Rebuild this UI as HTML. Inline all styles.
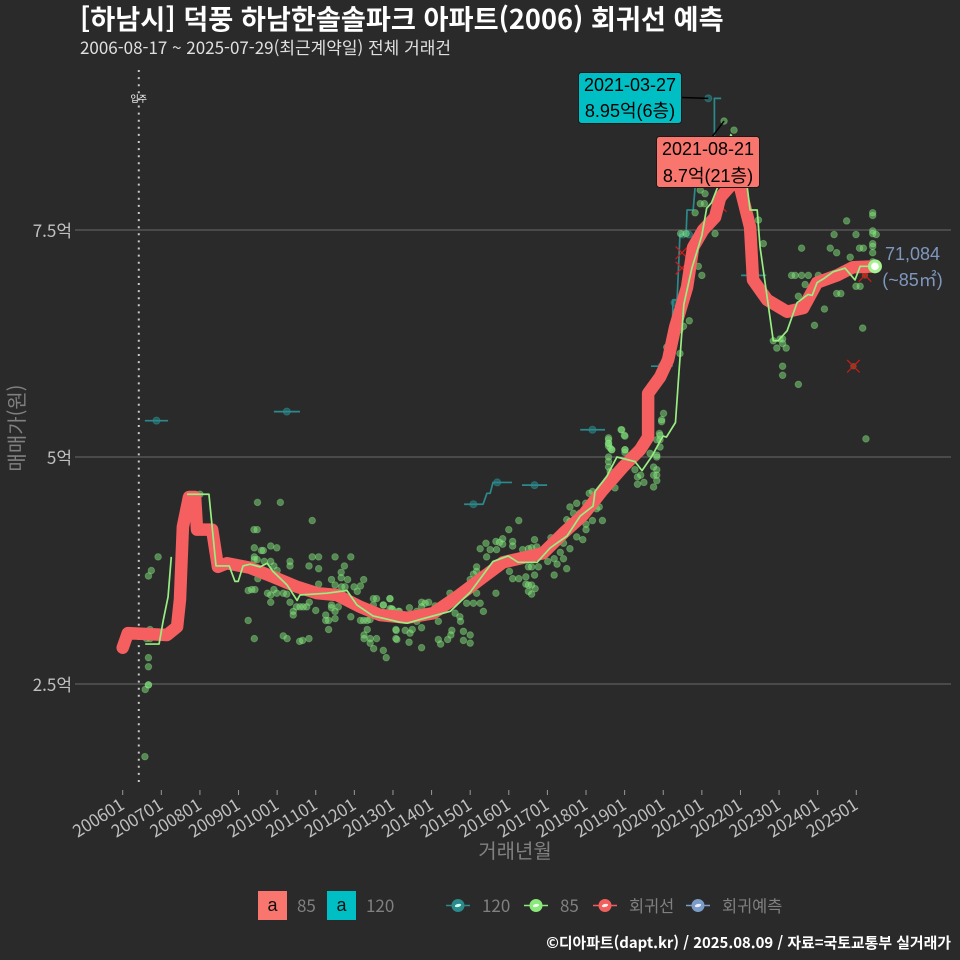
<!DOCTYPE html>
<html lang="ko">
<head>
<meta charset="utf-8">
<title>덕풍 하남한솔솔파크 아파트 회귀선 예측</title>
<style>
html,body{margin:0;padding:0;background:#2a2a2a;}
body{width:960px;height:960px;overflow:hidden;}
svg{display:block;}
text{font-family:"Noto Sans CJK KR","Liberation Sans",sans-serif;}
.ann{font-family:"Liberation Sans","Noto Sans CJK KR",sans-serif;font-size:18px;fill:#000;text-anchor:middle;}
</style>
</head>
<body>
<svg id="chart" width="960" height="960" viewBox="0 0 960 960" xmlns="http://www.w3.org/2000/svg">
  <rect x="0" y="0" width="960" height="960" fill="#2a2a2a"/>
  <text x="80" y="29" font-size="27.2" font-weight="700" fill="#ffffff">[하남시] 덕풍 하남한솔솔파크 아파트(2006) 회귀선 예측</text>
  <text x="80" y="54" font-size="17" fill="#e0e0e0">2006-08-17 ~ 2025-07-29(최근계약일) 전체 거래건</text>
  <text transform="translate(24,428) rotate(-90)" text-anchor="middle" font-size="20" fill="#808080">매매가(원)</text>
  <text x="515" y="858" text-anchor="middle" font-size="20" fill="#808080">거래년월</text>
  <g id="grid"></g>
  <g id="xaxis"></g>
  <g id="marks"></g>

  <g>
    <rect x="578.5" y="72.5" width="103" height="51" rx="3" fill="#00BFC4" stroke="#1a1a1a"/>
    <text class="ann" x="630" y="91">2021-03-27</text>
    <text class="ann" x="630" y="117">8.95억(6층)</text>
  </g>
  <g>
    <rect x="656.5" y="136.5" width="103" height="51" rx="3" fill="#F8766D" stroke="#1a1a1a"/>
    <text class="ann" x="708" y="155">2021-08-21</text>
    <text class="ann" x="708" y="182">8.7억(21층)</text>
  </g>
  <g>
    <text x="912.5" y="260" text-anchor="middle" font-size="18" fill="#7f97bd" style="font-family:'Liberation Sans','Noto Sans CJK KR',sans-serif">71,084</text>
    <text x="912.5" y="286" text-anchor="middle" font-size="18" fill="#7f97bd" style="font-family:'Liberation Sans','Noto Sans CJK KR',sans-serif">(~85㎡)</text>
  </g>

  <g>
    <g>
      <rect x="258" y="891" width="29" height="29" fill="#F8766D"/>
      <text x="272.5" y="911" text-anchor="middle" font-size="18" fill="#111" style="font-family:'Liberation Sans',sans-serif">a</text>
      <text x="297" y="912" font-size="17" fill="#808080">85</text>
    </g>
    <g>
      <rect x="327" y="891" width="29" height="29" fill="#00BFC4"/>
      <text x="341.5" y="911" text-anchor="middle" font-size="18" fill="#111" style="font-family:'Liberation Sans',sans-serif">a</text>
      <text x="366" y="912" font-size="17" fill="#808080">120</text>
    </g>
    <g>
      <line x1="446" x2="470" y1="905.5" y2="905.5" stroke="#2a8a8c" stroke-width="1.5"/>
      <circle cx="458" cy="905.5" r="6.5" fill="#2a8a8c"/>
      <ellipse cx="458" cy="905.5" rx="3.2" ry="1.5" fill="#cfe" transform="rotate(-15 458 905.5)"/>
      <text x="482" y="912" font-size="17" fill="#808080">120</text>
    </g>
    <g>
      <line x1="524" x2="548" y1="905.5" y2="905.5" stroke="#8be87a" stroke-width="1.5"/>
      <circle cx="536" cy="905.5" r="6.5" fill="#8be87a"/>
      <ellipse cx="536" cy="905.5" rx="3.2" ry="1.5" fill="#efe" transform="rotate(-15 536 905.5)"/>
      <text x="560" y="912" font-size="17" fill="#808080">85</text>
    </g>
    <g>
      <line x1="593" x2="617" y1="905.5" y2="905.5" stroke="#f25f5f" stroke-width="1.5"/>
      <circle cx="605" cy="905.5" r="6.5" fill="#f25f5f"/>
      <ellipse cx="605" cy="905.5" rx="3.2" ry="1.5" fill="#fee" transform="rotate(-15 605 905.5)"/>
      <text x="629" y="912" font-size="16.4" fill="#808080">회귀선</text>
    </g>
    <g>
      <line x1="686" x2="710" y1="905.5" y2="905.5" stroke="#7b9cc8" stroke-width="1.5"/>
      <circle cx="698" cy="905.5" r="6.5" fill="#7b9cc8"/>
      <ellipse cx="698" cy="905.5" rx="3.2" ry="1.5" fill="#eef" transform="rotate(-15 698 905.5)"/>
      <text x="722" y="912" font-size="16.4" fill="#808080">회귀예측</text>
    </g>
  </g>
  <text x="951" y="948" text-anchor="end" font-size="14.9" font-weight="700" fill="#ffffff">©디아파트(dapt.kr) / 2025.08.09 / 자료=국토교통부 실거래가</text>
</svg>

<script>
// x = months since 2006-01, y = price in 억원
const xTickLabels = ['200601','200701','200801','200901','201001','201101','201201','201301','201401','201501','201601','201701','201801','201901','202001','202101','202201','202301','202401','202501'];
const yTickValues = [2.5, 5, 7.5];
const yTickLabels = ['2.5억', '5억', '7.5억'];
const moveInMonth = 5;

const regressionLine = [[0,2.90],[1.6,3.06],[13.8,3.04],[16.9,3.13],[17.8,3.43],[18.7,4.23],[20.6,4.56],[22.5,4.56],[23.1,4.20],[27.8,4.20],[29.6,3.79],[32.4,3.83],[39.6,3.78],[46.7,3.68],[54.2,3.57],[60.4,3.50],[66.6,3.48],[73.8,3.35],[80,3.26],[88.4,3.23],[96.5,3.28],[103.9,3.46],[111,3.65],[118.2,3.84],[124.4,3.89],[130.6,3.94],[136.9,4.16],[143.1,4.36],[149.3,4.64],[155.5,4.89],[160.8,5.08],[163.3,5.22],[163.3,5.70],[167,5.88],[169.5,6.07],[171.7,6.43],[175.4,6.87],[177.3,7.31],[180.4,7.50],[184.1,7.64],[185.7,7.86],[189.7,8.02],[191.9,7.97],[195,7.53],[195.9,6.95],[200.3,6.73],[206.5,6.60],[211.5,6.64],[215.8,6.92],[222,7.00],[227,7.09],[233.8,7.10]];

const line85SegmentA = [[7,2.94],[11.3,2.94],[12.6,3.20],[14.1,3.46],[15.1,3.90]];
const line85SegmentB = [[20,4.59],[26.8,4.59],[29,3.80],[33.1,3.80],[34.9,3.63],[35.9,3.63],[37.4,3.80],[39.6,3.82],[42.7,3.79],[44.9,3.83],[46.7,3.74],[51.1,3.59],[54.2,3.42],[55.1,3.48],[63.5,3.50],[69.7,3.53],[72.8,3.37],[77.8,3.25],[86.2,3.18],[88.4,3.17],[93.4,3.22],[101.8,3.30],[108,3.51],[115.1,3.85],[119.8,3.91],[122.9,3.84],[128.8,3.84],[132.9,4.00],[138.1,4.13],[142.2,4.35],[146.2,4.46],[146.8,4.62],[150.5,4.79],[153.6,5.00],[159.2,4.95],[161.4,4.85],[164.5,5.01],[167.9,5.23],[169,5.22],[171.8,5.38],[172.9,5.94],[174.4,6.68],[176.9,7.08],[180,7.44],[181.5,7.74],[183,7.80],[186,8.07],[189,8.55],[192,8.35],[194,8.00],[195,7.72],[197.2,7.72],[198.1,7.31],[202.2,6.28],[203.7,6.28],[206.5,6.39],[209.6,6.70],[213,6.79],[214.3,6.78],[215.8,6.92],[217.7,6.96],[220.8,7.04],[224.5,7.08],[227.6,6.95],[229.2,7.10],[233.8,7.10]];

const line120SegmentA = [[6.9,5.40],[14.1,5.40]];
const line120SegmentB = [[47,5.50],[55.1,5.50]];
const line120SegmentC = [[106.1,4.48],[112,4.48],[113.2,4.60],[114.2,4.60],[115.1,4.72],[121,4.72]];
const line120SegmentD = [[124.1,4.69],[131.9,4.69]];
const line120SegmentE = [[142.2,5.30],[149.9,5.30]];
const line120SegmentF = [[164.2,6.0],[170.7,6.0],[171,6.73],[172.3,6.73],[173.2,7.45],[175.1,7.45],[175.4,7.72],[177.3,7.72],[177.9,7.97],[183.9,8.2],[183.9,8.95],[186,8.95]];
const line120SegmentG = [[192.2,7.0],[200,7.0]];

const trades120 = [[10.5,5.40],[51,5.50],[109,4.48],[116.4,4.72],[128,4.69],[146,5.30],[167.5,6.0],[171.5,6.7],[174,7.45],[176,7.45],[182,8.95],[196,7.0]];

const trades85 = [
[41.9,4.50],[49.0,4.50],[58.9,4.30],[40.8,4.20],[41.8,4.20],[11.0,3.90],[8.9,3.75],[8.0,3.69],[24.0,4.59],[40.9,4.00],[43.7,3.97],[43.1,3.97],[46.0,4.02],[47.9,4.00],[40.9,3.90],[40.9,3.87],[52.0,3.85],[52.0,3.80],[58.9,3.90],[60.9,3.90],[66.0,3.90],[70.9,3.90],[57.9,3.80],[60.9,3.77],[68.9,3.80],[67.9,3.73],[67.9,3.67],[69.9,3.65],[64.9,3.65],[60.9,3.60],[66.0,3.59],[74.9,3.65],[71.9,3.57],[73.9,3.58],[72.9,3.52],[42.0,3.66],[39.0,3.53],[40.1,3.54],[41.1,3.54],[45.0,3.50],[46.0,3.48],[47.0,3.54],[47.9,3.50],[46.0,3.40],[49.9,3.50],[51.0,3.49],[52.0,3.40],[53.0,3.30],[53.0,3.26],[54.0,3.35],[55.1,3.35],[56.1,3.35],[57.2,3.35],[58.0,3.40],[60.0,3.31],[63.1,3.26],[63.1,3.20],[64.0,3.20],[64.9,3.37],[64.9,3.34],[66.0,3.30],[66.0,3.22],[67.0,3.35],[68.0,3.57],[69.1,3.57],[70.9,3.24],[73.9,3.20],[74.9,3.20],[76.0,3.20],[76.9,3.21],[77.9,3.44],[78.9,3.44],[77.9,3.37],[81.0,3.37],[83.1,3.44],[83.6,3.33],[85.7,3.30],[39.0,3.20],[40.9,3.00],[49.9,3.03],[51.1,3.00],[55.0,2.97],[55.9,2.98],[57.9,3.00],[64.0,3.10],[75.0,3.04],[75.0,3.00],[76.0,3.10],[76.9,3.00],[76.9,2.95],[78.9,3.00],[78.0,2.89],[81.0,2.87],[81.9,2.79],[84.9,3.10],[84.9,3.00],[8.0,2.79],[8.0,2.69],[8.0,2.49],[8.0,2.49],[7.0,2.44],[8.5,3.10],[7.4,3.00],[8.5,3.00],[6.9,1.70],[46.0,3.85],[47.0,3.80],[48.0,3.75],[44.0,3.85],[41.8,3.87],
[83.0,3.44],[81.0,3.37],[83.1,3.33],[83.9,3.32],[86.0,3.30],[89.1,3.34],[92.9,3.40],[94.0,3.39],[95.1,3.40],[97.1,3.36],[92.9,3.35],[91.4,3.30],[101.7,3.50],[85.0,3.09],[85.2,2.99],[87.8,3.09],[90.0,3.10],[89.3,3.06],[92.9,3.12],[91.4,3.19],[98.1,3.19],[102.3,3.09],[102.0,3.04],[98.1,2.99],[98.8,2.94],[101.0,2.99],[105.9,3.08],[108.0,3.04],[105.9,2.98],[108.0,2.95],[92.9,2.90],[89.0,2.96],[104.8,3.24],[105.0,3.19],[103.3,3.28],[110.0,3.79],[110.0,3.74],[109.0,3.71],[108.0,3.65],[110.0,3.50],[106.9,3.39],[109.0,3.39],[111.1,3.39],[112.1,3.30],[116.0,3.50],[111.1,3.99],[112.9,4.05],[114.2,3.98],[116.0,4.07],[117.1,4.06],[118.1,4.10],[118.1,4.04],[121.2,4.07],[121.2,4.02],[124.3,3.98],[126.1,3.99],[128.0,4.09],[127.1,4.00],[128.7,4.01],[120.0,4.20],[123.1,4.30],[113.1,3.90],[116.2,3.98],[120.2,3.74],[121.2,3.66],[123.1,3.66],[125.3,3.68],[125.3,3.60],[126.1,3.59],[127.1,3.59],[126.1,3.52],[128.2,3.55],[127.1,3.49],[128.0,3.70],[126.1,3.79],[127.1,3.79],[129.2,3.79],[132.1,3.85],[134.1,3.88],[135.0,3.82],[134.1,3.70],[138.0,3.77],[137.0,3.88],[136.0,3.95],[137.0,4.05],[139.0,3.99],[133.1,4.11],[141.1,4.12],[143.0,4.09],[139.0,4.45],[141.1,4.49],[143.9,4.49],[140.1,4.38],[142.1,4.38],[138.0,4.31],[139.0,4.29],[146.0,4.30],[149.1,4.30],[144.0,4.20],[144.0,4.26],[145.0,4.60],[146.0,4.62],[147.3,4.43],[148.1,4.45],[153.0,4.66],[151.0,5.19],[151.0,5.15],[151.0,5.12],[152.0,5.08],[155.1,5.30],[156.1,5.23],[156.1,5.08],[156.1,5.05],[151.0,5.00],[151.0,4.95],[151.0,4.89],[151.5,4.84],[163.9,5.04],[165.0,4.89],[166.0,5.00],[166.8,5.26],[167.0,5.19],[167.0,5.11],[167.5,5.39],[166.0,4.86],[166.0,4.80],[165.0,4.80],[166.0,4.74],[165.0,4.67],[162.0,4.72],[160.0,4.70],[160.0,4.78],[161.0,4.80],[159.2,4.86],
[154.9,5.30],[155.9,5.24],[151.0,5.21],[151.0,5.15],[151.5,5.10],[152.0,5.08],[156.1,5.08],[167.0,5.24],[166.0,5.19],[168.1,5.48],[167.5,5.41],[166.0,5.02],[173.2,6.14],[169.1,6.21],[174.3,6.44],[176.1,6.50],[173.2,6.40],[178.9,7.10],[180.0,7.00],[173.4,7.46],[175.1,7.46],[177.9,7.69],[184.1,7.46],[199.1,7.35],[179.5,7.79],[180.8,7.79],[179.5,7.94],[181.0,7.90],[186.9,8.70],[190.0,8.60],[197.6,7.61],[202.2,6.28],[204.3,6.30],[205.1,6.30],[203.3,6.20],[206.2,6.20],[205.1,6.25],[205.1,6.00],[205.1,5.90],[210.0,5.80],[211.0,7.30],[207.9,7.00],[209.0,7.00],[211.0,7.00],[213.1,7.00],[216.2,7.00],[212.1,6.90],[210.0,6.77],[221.9,6.80],[223.2,6.80],[218.1,6.63],[215.0,6.45],[230.0,6.42],[231.0,5.20],[219.9,7.30],[221.9,7.25],[225.0,7.60],[221.1,7.45],[227.9,7.45],[229.0,7.30],[230.2,7.30],[226.1,7.20],[233.1,7.69],[233.1,7.66],[233.1,7.49],[233.1,7.46],[234.2,7.45],[233.1,7.35],[233.1,7.32],[233.1,7.25],[233.1,7.15],[227.9,6.88],[229.2,6.88],[233.8,7.10]
];

const canceledTrades = [[227.1,6.0],[230.7,7.0],[173.8,7.25],[173.8,7.08],[185.7,7.77]];
const canceledDarkDots = [[227.1,6.0],[230.7,7.0]];
const lastForecast = [233.8, 7.10];
const highPoint120 = [182, 8.95];
const highPoint85 = [186.9, 8.70];

const SVGNS = 'http://www.w3.org/2000/svg';
const X0 = 122.7, XPERMONTH = 3.2175;
const Y0 = 684, YPER = 90.8;
function xs(m){ return X0 + m * XPERMONTH; }
function ys(v){ return Y0 - (v - 2.5) * YPER; }
function make(tag, parent, attrs){
  const el = document.createElementNS(SVGNS, tag);
  for (const k in attrs) el.setAttribute(k, attrs[k]);
  parent.appendChild(el);
  return el;
}
function pathOf(rows){
  return rows.map(function(p,i){ return (i ? 'L' : 'M') + xs(p[0]).toFixed(2) + ' ' + ys(p[1]).toFixed(2); }).join(' ');
}

const grid = document.getElementById('grid');
const xaxis = document.getElementById('xaxis');
const marks = document.getElementById('marks');

yTickValues.forEach(function(v,i){
  const gl = make('line', grid, {x1:75, x2:951, y1:ys(v), y2:ys(v), stroke:'#6a6a6a', 'stroke-width':1});
  
  
  const tl = make('text', grid, {x:72, y:ys(v)+7, 'text-anchor':'end', 'font-size':17, fill:'#c0c0c0'});
  
  
  tl.textContent = yTickLabels[i];
});

xTickLabels.forEach(function(lab,i){
  const x = xs(i * 12);
  const t = make('line', xaxis, {x1:x, x2:x, y1:790, y2:795, stroke:'#999', 'stroke-width':1});
  
  
  const tx = make('text', xaxis, {transform:'translate(' + (x + 3) + ',808) rotate(-32)', 'text-anchor':'end', 'font-size':17, fill:'#c0c0c0'});
  
  
  tx.textContent = lab;
});

const moveIn = make('line', marks, {x1:xs(moveInMonth), x2:xs(moveInMonth), y1:70, y2:786, stroke:'#c8c8c8', 'stroke-width':2, 'stroke-dasharray':'2 5.1'});


const moveInText = make('text', marks, {x:xs(moveInMonth), y:102, 'text-anchor':'middle', 'font-size':9, fill:'#ffffff'});


moveInText.textContent = '입주';

[line120SegmentA, line120SegmentB, line120SegmentC, line120SegmentD, line120SegmentE, line120SegmentF, line120SegmentG].forEach(function(seg){
  const p = make('path', marks, {d:pathOf(seg), fill:'none', stroke:'#2a8a8c', 'stroke-width':1.7, 'stroke-linejoin':'round'});
  
  
});
trades120.forEach(function(d){
  const c = make('circle', marks, {cx:xs(d[0]), cy:ys(d[1]), r:3.5, fill:'#2a8a8c', 'fill-opacity':0.55, stroke:'#2a8a8c', 'stroke-opacity':0.6});
  
  
});
trades85.forEach(function(d){
  const c = make('circle', marks, {cx:xs(d[0]), cy:ys(d[1]), r:3.3, fill:'#82e67c', 'fill-opacity':0.5, stroke:'#90ee8a', 'stroke-opacity':0.35, 'stroke-width':0.9});
  
  
});

canceledDarkDots.forEach(function(d){
  const c = make('circle', marks, {cx:xs(d[0]), cy:ys(d[1]), r:3.2, fill:'#7a5a30', 'fill-opacity':0.8});
  
  
});
canceledTrades.forEach(function(d){
  const x = xs(d[0]), y = ys(d[1]), s = 6.3;
  const m = make('path', marks, {d:'M' + (x-s) + ' ' + (y-s) + ' L' + (x+s) + ' ' + (y+s) + ' M' + (x+s) + ' ' + (y-s) + ' L' + (x-s) + ' ' + (y+s), stroke:'#d81818', 'stroke-width':1.2, fill:'none'});
  
  
});

const reg = make('path', marks, {d:pathOf(regressionLine), fill:'none', stroke:'#f55f5f', 'stroke-width':12.5, 'stroke-linejoin':'round', 'stroke-linecap':'round'});



[line85SegmentA, line85SegmentB].forEach(function(seg){
  const p = make('path', marks, {d:pathOf(seg), fill:'none', stroke:'#98ee82', 'stroke-width':1.7, 'stroke-linejoin':'round'});
  
  
});

const outer = make('circle', marks, {cx:xs(lastForecast[0]), cy:ys(lastForecast[1]), r:7, fill:'#a5f08f'});


const inner = make('circle', marks, {cx:xs(lastForecast[0]), cy:ys(lastForecast[1]), r:3.8, fill:'#ffffff'});



const c120 = make('line', marks, {x1:682, y1:97.5, x2:xs(highPoint120[0]), y2:ys(highPoint120[1]), stroke:'#000', 'stroke-width':1.5});


const c85 = make('line', marks, {x1:712, y1:137, x2:xs(highPoint85[0]), y2:ys(highPoint85[1]), stroke:'#000', 'stroke-width':1.5});


</script>
</body>
</html>
